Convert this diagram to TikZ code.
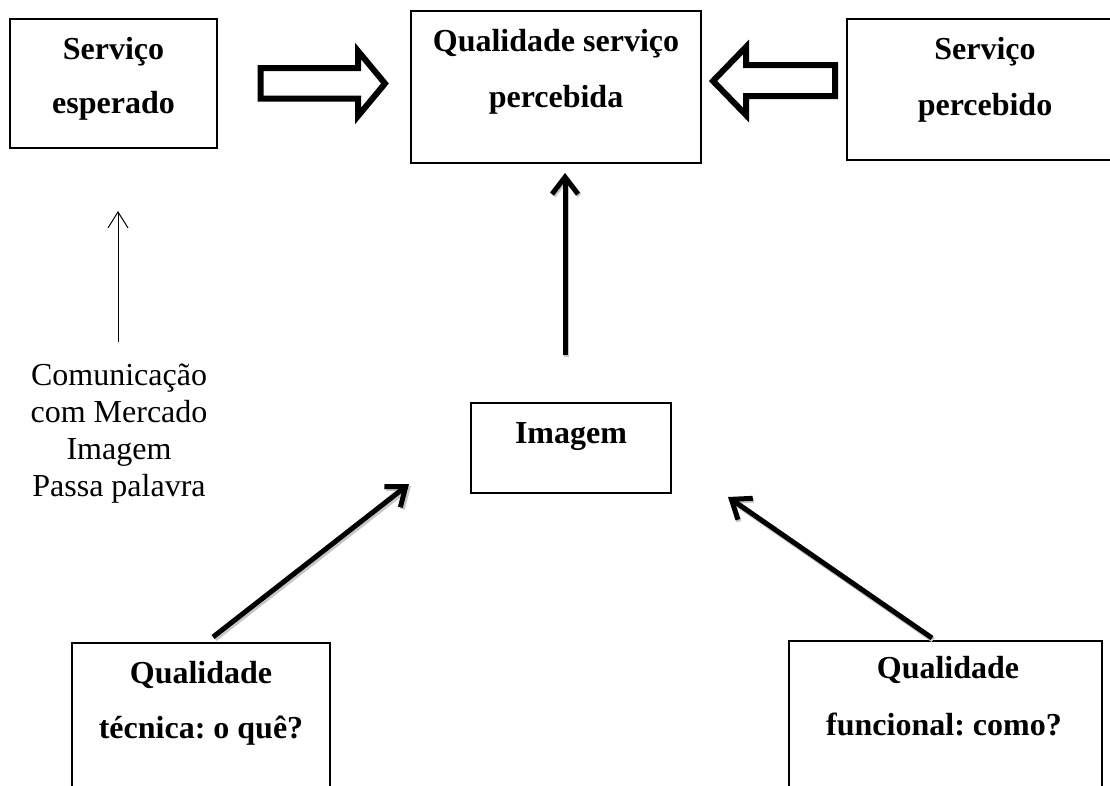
\documentclass[tikz,border=0pt]{standalone}
\usepackage{fontspec}
\setmainfont{Liberation Serif}
\usetikzlibrary{arrows.meta}
\begin{document}
\frenchspacing
\begin{tikzpicture}[x=1pt,y=-1pt,
  box/.style={draw, line width=1.5pt, inner sep=0pt},
  lbl/.style={font=\bfseries\fontsize{32}{38}\selectfont, inner sep=0pt, anchor=base},
  note/.style={font=\fontsize{32}{37}\selectfont, inner sep=0pt, align=center, anchor=base},
  bigarrow/.style={draw, line width=6pt, miter limit=10, fill=white},
  thickarrow/.style={line width=5pt, -{Straight Barb[length=17pt,width=26pt]}},
  shadowarrow/.style={draw=gray!45, line width=5pt, -{Straight Barb[length=17pt,width=26pt]}},
  thinarrow/.style={line width=1pt, -{Straight Barb[length=16pt,width=20pt]}}]
\useasboundingbox (0,0) rectangle (1110,785);

% boxes
\node[box, minimum width=207pt, minimum height=129pt] (se)  at (113.5,83.5) {};
\node[box, minimum width=290pt, minimum height=152pt] (qsp) at (556,87) {};
\node[box, minimum width=276pt, minimum height=141pt] (sp)  at (985,89.5) {};
\node[box, minimum width=200pt, minimum height=90pt]  (img) at (571,448) {};
\node[box, minimum width=258pt, minimum height=157pt] (qt)  at (201,721.5) {};
\node[box, minimum width=313pt, minimum height=159pt] (qf)  at (945.5,720.5) {};

% texts
\node[lbl] (se1) at (113.5,59) {Serviço};
\node[lbl] (se2) at (113.5,113) {esperado};
\node[lbl] (qsp1) at (556,51) {Qualidade serviço};
\node[lbl] (qsp2) at (556,107) {percebida};
\node[lbl] (sp1) at (985,59) {Serviço};
\node[lbl] (sp2) at (985,115) {percebido};
\node[lbl] (img1) at (571,443) {Imagem};
\node[lbl] (qt1) at (201,683) {Qualidade};
\node[lbl] (qt2) at (201,738) {técnica: o quê?};
\node[lbl] (qf1) at (948,678) {Qualidade};
\node[lbl] (qf2) at (944,735) {funcional: como?};
\node[note] (com) at (119,496) {Comunicação\\com Mercado\\Imagem\\Passa palavra};

% block arrows
\path[bigarrow] (260.5,68) -- (358,68) -- (358,51) -- (385,83.5) -- (358,116)
  -- (358,98.5) -- (260.5,98.5) -- cycle;
\path[bigarrow] (835,65) -- (746,65) -- (746,47) -- (713,81) -- (746,115)
  -- (746,96) -- (835,96) -- cycle;

% connectors
\coordinate (c1s) at (118,342);
\coordinate (c1e) at (118,211);
\draw[thinarrow] (c1s) -- (c1e);

\coordinate (c2s) at (565,355);
\coordinate (c2e) at (565,173);
\draw[shadowarrow] ([xshift=1.5pt,yshift=-1.5pt]c2s) -- ([xshift=1.5pt,yshift=-1.5pt]c2e);
\draw[thickarrow] (c2s) -- (c2e);

\coordinate (c3s) at (213,637);
\coordinate (c3e) at (409,484);
\draw[shadowarrow] ([xshift=2pt,yshift=-2pt]c3s) -- ([xshift=2pt,yshift=-2pt]c3e);
\draw[thickarrow] (c3s) -- (c3e);

\coordinate (c4s) at (932,638);
\coordinate (c4e) at (728,497);
\draw[shadowarrow] ([xshift=1pt,yshift=-2pt]c4s) -- ([xshift=1pt,yshift=-2pt]c4e);
\draw[thickarrow] (c4s) -- (c4e);
\end{tikzpicture}
\end{document}
